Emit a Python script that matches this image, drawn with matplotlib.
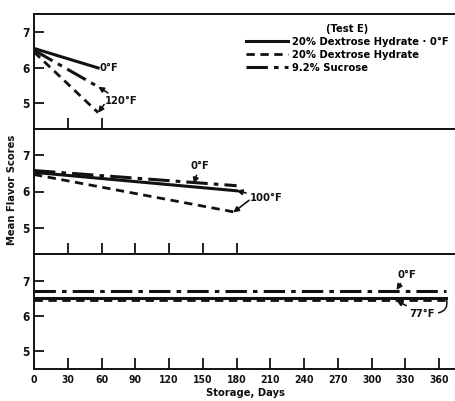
import matplotlib
matplotlib.use('Agg')
import matplotlib.pyplot as plt
from matplotlib.lines import Line2D

plt.rcParams['font.family'] = 'DejaVu Sans'
plt.rcParams['font.weight'] = 'bold'
plt.rcParams['font.stretch'] = 'condensed'

# top panel (120F)
top_days = [0, 57]
top_solid = [6.55, 6.0]
top_dashdot = [6.5, 5.47]
top_dashed = [6.45, 4.74]

# middle panel (100F)
mid_days = [0, 180]
mid_dashdot = [6.58, 6.16]
mid_solid = [6.53, 6.02]
mid_dashed = [6.47, 5.42]

# bottom panel (77F)
bot_days = [0, 366]
bot_dashdot = [6.72, 6.72]
bot_solid = [6.5, 6.5]
bot_dashed = [6.47, 6.47]

xticks = [0, 30, 60, 90, 120, 150, 180, 210, 240, 270, 300, 330, 360]
yticks = [5, 6, 7]

legend_labels = ['20% Dextrose Hydrate \u00b7 0\u00b0F', '20% Dextrose Hydrate', '9.2% Sucrose']

K = '#141210'
solid = dict(color=K, lw=2.2, ls='-')
dashed = dict(color=K, lw=2.0, ls=(0, (3, 2)))
dashdot = dict(color=K, lw=2.2, ls=(0, (7, 2, 1.5, 2)))

fig = plt.figure(figsize=(4.55, 4.01), dpi=100)
left = 34 / 455
w = 1 - left
ax1 = fig.add_axes([left, 1 - 129 / 401, w, 115 / 401])
ax2 = fig.add_axes([left, 1 - 254 / 401, w, 125 / 401])
ax3 = fig.add_axes([left, 1 - 369 / 401, w, 115 / 401])

for ax, ylim in [(ax1, (4.28, 7.52)), (ax2, (4.27, 7.73)), (ax3, (4.5, 7.76))]:
    ax.set_xlim(0, 374)
    ax.set_ylim(*ylim)
    ax.spines['right'].set_visible(False)
    for s in ['left', 'top', 'bottom']:
        ax.spines[s].set_linewidth(1.4)
        ax.spines[s].set_color(K)
    ax.set_yticks(yticks)
    ax.tick_params(direction='in', length=7, width=1.3, colors=K, labelsize=8.5, pad=3)
    ax.tick_params(axis='x', length=8)

ax1.set_xticks([30, 60])
ax1.set_xticklabels([])
ax2.set_xticks([30, 60, 90, 120, 150, 180])
ax2.set_xticklabels([])
ax3.set_xticks(xticks)
ax3.tick_params(axis='x', labelsize=7.5, pad=4)

ax1.plot(top_days, top_solid, **solid)
ax1.plot(top_days, top_dashdot, **dashdot)
ax1.plot(top_days, top_dashed, **dashed)

ax2.plot(mid_days, mid_dashdot, **dashdot)
ax2.plot(mid_days, mid_solid, **solid)
ax2.plot(mid_days, mid_dashed, **dashed)

ax3.plot(bot_days, bot_dashdot, **dashdot)
ax3.plot(bot_days, bot_solid, **solid)
ax3.plot(bot_days, bot_dashed, **dashed)

arr = dict(arrowstyle='-|>', color=K, lw=1.2, mutation_scale=8, shrinkA=1, shrinkB=0)
fs = 8

ax1.text(58, 6.0, '0\u00b0F', fontsize=fs, va='center', ha='left', color=K)
ax1.annotate('120\u00b0F', xy=(top_days[1], top_dashdot[1]), xytext=(63, 5.06),
             fontsize=fs, va='center', ha='left', color=K, arrowprops=arr)
ax1.annotate('', xy=(top_days[1], top_dashed[1]), xytext=(63, 5.0), arrowprops=arr)

ax2.annotate('0\u00b0F', xy=(142, 6.22), xytext=(147, 6.7), fontsize=fs,
             va='center', ha='center', color=K, arrowprops=arr)
ax2.annotate('100\u00b0F', xy=(mid_days[1], mid_solid[1]), xytext=(192, 5.83),
             fontsize=fs, va='center', ha='left', color=K, arrowprops=arr)
ax2.annotate('', xy=(mid_days[1] - 3, mid_dashed[1]), xytext=(192, 5.78), arrowprops=arr)

ax3.annotate('0\u00b0F', xy=(322, 6.74), xytext=(331, 7.17), fontsize=fs,
             va='center', ha='center', color=K, arrowprops=arr)
ax3.annotate('77\u00b0F', xy=(322, 6.44), xytext=(345, 6.06), fontsize=fs,
             va='center', ha='center', color=K, arrowprops=arr)
ax3.annotate('', xy=(366, 6.52), xytext=(357, 6.08),
             arrowprops=dict(arrowstyle='-', color=K, lw=1.1,
                             connectionstyle='arc3,rad=0.6'))

handles = [Line2D([], [], **solid), Line2D([], [], **dashed), Line2D([], [], **dashdot)]
leg = ax1.legend(handles, legend_labels, title='(Test E)', loc='upper right',
                 bbox_to_anchor=(1.0, 0.97), frameon=False, fontsize=8,
                 title_fontsize=8, handlelength=3.8, handletextpad=0.3,
                 labelspacing=0.25, borderaxespad=0.2)
leg.get_title().set_fontweight('bold')

fig.text(12 / 455, 1 - 190 / 401, 'Mean Flavor Scores', rotation=90, fontsize=8,
         ha='center', va='center', color=K)
fig.text(246 / 455, 1 - 393 / 401, 'Storage, Days', fontsize=8,
         ha='center', va='center', color=K)

fig.savefig('out.png', dpi=100)
